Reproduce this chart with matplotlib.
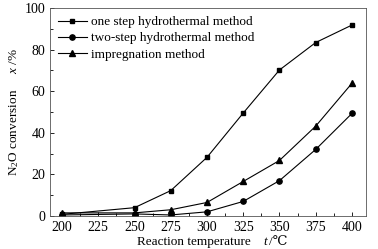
import matplotlib
matplotlib.use('Agg')
import matplotlib.pyplot as plt
from matplotlib.ticker import MultipleLocator

plt.rcParams['font.family'] = ['Liberation Serif', 'DejaVu Serif', 'DejaVu Sans']
plt.rcParams['mathtext.fontset'] = 'custom'
plt.rcParams['mathtext.rm'] = 'Liberation Serif'
plt.rcParams['mathtext.it'] = 'Liberation Serif:italic'

temps = [200, 250, 275, 300, 325, 350, 375, 400]
one_step = [0.8, 4.0, 12.2, 28.2, 49.5, 70.2, 83.4, 91.8]
two_step = [0.5, 1.0, 0.5, 2.0, 7.0, 17.0, 32.0, 49.3]
impregnation = [1.5, 1.5, 3.0, 6.5, 16.6, 26.7, 43.2, 63.8]

fig = plt.figure(figsize=(3.78, 2.49), dpi=100)
ax = fig.add_axes([50 / 378, 33 / 249, 316 / 378, 208 / 249])

ax.plot(temps, one_step, '-s', color='black', lw=0.8, ms=3.5, label='one step hydrothermal method')
ax.plot(temps, two_step, '-o', color='black', lw=0.8, ms=3.8, label='two-step hydrothermal method')
ax.plot(temps, impregnation, '-^', color='black', lw=0.8, ms=4, label='impregnation method')

ax.set_xlim(191.7, 409.7)
ax.set_ylim(0, 100)
ax.xaxis.set_major_locator(MultipleLocator(25))
ax.xaxis.set_minor_locator(MultipleLocator(12.5))
ax.yaxis.set_major_locator(MultipleLocator(20))
ax.yaxis.set_minor_locator(MultipleLocator(10))
ax.tick_params(which='both', direction='in', labelsize=10)
ax.tick_params(which='major', length=3, width=0.6)
ax.tick_params(which='minor', length=2, width=0.6)
for s in ax.spines.values():
    s.set_linewidth(0.6)
    s.set_color('#555555')

# x label in pieces so the italic t and the degree sign both render
yb = 1 - 245 / 249
fig.text(137 / 378, yb, 'Reaction temperature', fontsize=9.5, va='baseline')
fig.text(263 / 378, yb, 't', fontsize=9.5, style='italic', va='baseline')
fig.text(269 / 378, yb, '/\u2103', fontsize=9.5, va='baseline')

ax.set_ylabel('N$_2$O conversion     $x$ /%', fontsize=9.5, labelpad=2.5)

ax.legend(loc='upper left', frameon=False, fontsize=9.5, handlelength=2.2,
          handletextpad=0.3, labelspacing=0.3, borderaxespad=0.2)

fig.savefig('out.png', dpi=100)
